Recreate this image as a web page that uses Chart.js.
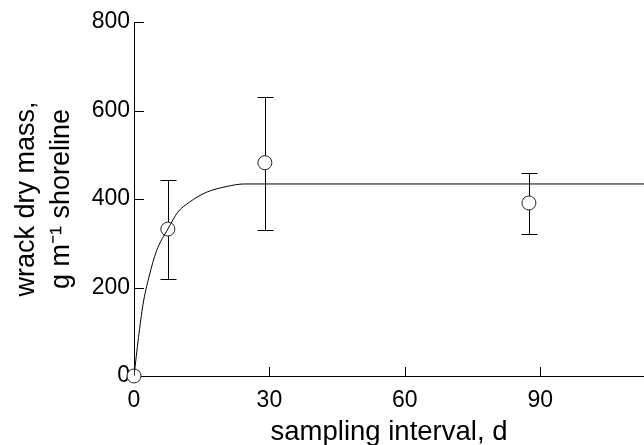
<!DOCTYPE html>
<html>
<head>
<meta charset="utf-8">
<script src="https://cdn.jsdelivr.net/npm/chart.js@4.4.1/dist/chart.umd.min.js"></script>
<style>
  html, body { margin: 0; padding: 0; background: #fff; }
  #chart { display: block; }
</style>
</head>
<body>
<canvas id="chart" width="644" height="445"></canvas>
<script>
// fitted curve
var curveX = [0, 1, 2, 3.3, 5, 7.5, 9.7, 12.3, 16, 20.4, 24.5, 113];
var curveY = [0, 87, 162, 223, 283, 332, 370, 393, 415, 428, 434, 434];

// sampled means with error bars
var sampleX = [0, 7.5, 29, 87.5];
var sampleMean = [0, 332, 482, 391];
var errLow = [0, 220, 329, 322];
var errHigh = [0, 442, 630, 458];

var xTicks = [0, 30, 60, 90];
var yTicks = [0, 200, 400, 600, 800];

var FONT = '"Liberation Sans", Arial, sans-serif';

var curvePts = curveX.map(function(v, i) { return {x: v, y: curveY[i]}; });
var samplePts = sampleX.map(function(v, i) { return {x: v, y: sampleMean[i]}; });

// error bars under the markers, inward tick marks
var extras = {
  id: 'extras',
  beforeDatasetsDraw: function(chart) {
    var ctx = chart.ctx;
    var x = chart.scales.x, y = chart.scales.y;
    ctx.save();
    ctx.strokeStyle = '#000';
    ctx.lineWidth = 1;
    ctx.beginPath();
    for (var i = 0; i < sampleX.length; i++) {
      if (errHigh[i] === errLow[i]) continue;
      var px = Math.round(x.getPixelForValue(sampleX[i])) + 0.5;
      var top = Math.round(y.getPixelForValue(errHigh[i])) + 0.5;
      var bot = Math.round(y.getPixelForValue(errLow[i])) + 0.5;
      ctx.moveTo(px, top); ctx.lineTo(px, bot);
      ctx.moveTo(px - 8, top); ctx.lineTo(px + 8, top);
      ctx.moveTo(px - 8, bot); ctx.lineTo(px + 8, bot);
    }
    yTicks.forEach(function(v) {
      if (v === 0) return;
      var py = Math.round(y.getPixelForValue(v)) + 0.5;
      ctx.moveTo(x.left, py); ctx.lineTo(x.left + 10, py);
    });
    xTicks.forEach(function(v) {
      if (v === 0) return;
      var px = Math.round(x.getPixelForValue(v)) + 0.5;
      ctx.moveTo(px, y.bottom); ctx.lineTo(px, y.bottom - 9);
    });
    ctx.stroke();
    ctx.restore();
  }
};

var ctx = document.getElementById('chart');

var chart = new Chart(ctx, {
  type: 'scatter',
  data: {
    datasets: [
      {
        label: 'fit',
        data: curvePts,
        showLine: true,
        borderColor: '#000',
        borderWidth: 1,
        pointRadius: 0,
        cubicInterpolationMode: 'monotone',
        fill: false
      },
      {
        label: 'samples',
        data: samplePts,
        pointStyle: 'circle',
        pointRadius: 7,
        pointBackgroundColor: '#fff',
        pointBorderColor: '#222',
        pointBorderWidth: 1,
        clip: false
      }
    ]
  },
  options: {
    responsive: false,
    animation: false,
    layout: { autoPadding: false, padding: { top: 22, right: 0, left: 0, bottom: 0 } },
    plugins: {
      legend: { display: false },
      tooltip: { enabled: false }
    },
    scales: {
      x: {
        type: 'linear',
        min: 0,
        max: 113,
        afterBuildTicks: function(scale) {
          scale.ticks = xTicks.map(function(v) { return {value: v}; });
        },
        afterFit: function(scale) {
          scale.height = 69;
          scale.paddingLeft = 0;
          scale.paddingRight = 0;
        },
        grid: { display: true, drawOnChartArea: false, drawTicks: false },
        border: { display: true, color: '#000', width: 1 },
        ticks: {
          color: '#000',
          padding: 11,
          maxRotation: 0,
          font: { family: FONT, size: 23 }
        },
        title: {
          display: true,
          text: 'sampling interval, d',
          color: '#000',
          padding: { top: 0, bottom: -4 },
          font: { family: FONT, size: 27.5 }
        }
      },
      y: {
        type: 'linear',
        min: 0,
        max: 800,
        afterBuildTicks: function(scale) {
          scale.ticks = yTicks.map(function(v) { return {value: v}; });
        },
        afterFit: function(scale) { scale.width = 134; },
        grid: { display: true, drawOnChartArea: false, drawTicks: false },
        border: { display: true, color: '#000', width: 1 },
        ticks: {
          color: '#000',
          padding: 4,
          font: { family: FONT, size: 23 }
        },
        title: {
          display: true,
          text: ['wrack dry mass,', 'g m\u207B\u00B9 shoreline'],
          color: '#000',
          padding: { top: 9, bottom: 0 },
          font: { family: FONT, size: 27, lineHeight: 1.3 }
        }
      }
    }
  },
  plugins: [extras]
});
</script>
</body>
</html>
